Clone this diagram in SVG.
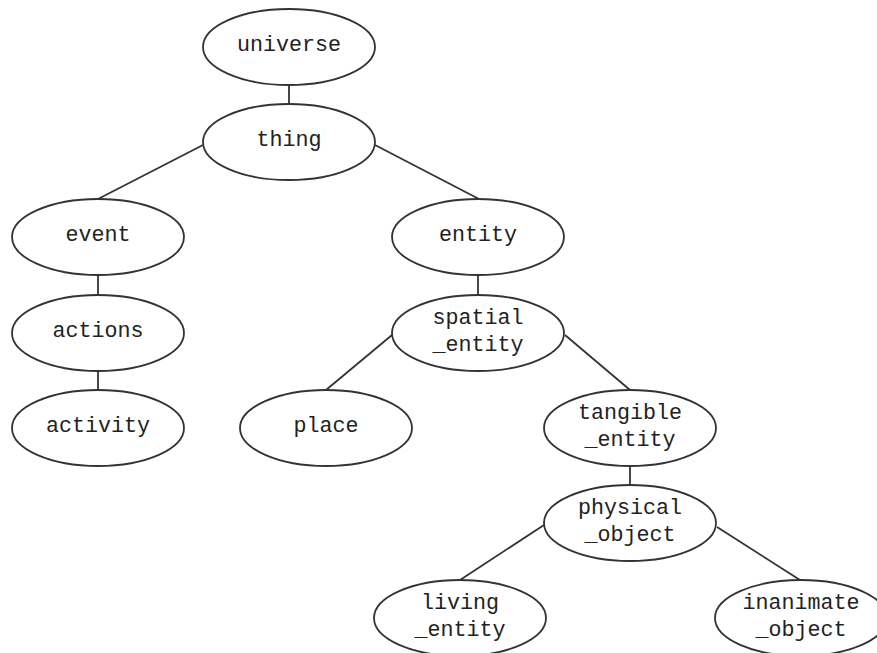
<svg xmlns="http://www.w3.org/2000/svg" width="877" height="653" viewBox="0 0 877 653">
<style>
.n ellipse{fill:#fff;stroke:#333;stroke-width:1.8}
.n text{font-family:"Liberation Mono","DejaVu Sans Mono",monospace;font-size:21.7px;fill:#222;text-anchor:middle;dominant-baseline:central}
#edges line{stroke:#333;stroke-width:1.8}
</style>
<rect width="877" height="653" fill="#fff"/>
<g id="edges">
<line x1="289" y1="85" x2="289" y2="104"/>
<line x1="203" y1="145" x2="98" y2="199"/>
<line x1="375" y1="145" x2="479" y2="199"/>
<line x1="98" y1="275" x2="98" y2="295"/>
<line x1="478" y1="275" x2="478" y2="295"/>
<line x1="98" y1="371" x2="98" y2="390"/>
<line x1="392" y1="335" x2="326" y2="390"/>
<line x1="565" y1="335" x2="630" y2="390"/>
<line x1="630" y1="466" x2="630" y2="485"/>
<line x1="544" y1="525" x2="460" y2="580"/>
<line x1="717" y1="527" x2="800" y2="580"/>
</g>
<g id="universe" class="n"><ellipse cx="289" cy="47" rx="86" ry="38"/><text x="289" y="45">universe</text></g>
<g id="thing" class="n"><ellipse cx="289" cy="142" rx="86" ry="38"/><text x="289" y="140">thing</text></g>
<g id="event" class="n"><ellipse cx="98" cy="237" rx="86" ry="38"/><text x="98" y="235">event</text></g>
<g id="entity" class="n"><ellipse cx="478" cy="237" rx="86" ry="38"/><text x="478" y="235">entity</text></g>
<g id="actions" class="n"><ellipse cx="98" cy="333" rx="86" ry="38"/><text x="98" y="331">actions</text></g>
<g id="spatial_entity" class="n"><ellipse cx="478" cy="333" rx="86" ry="38"/><text x="478" y="318">spatial</text><text x="478" y="345">_entity</text></g>
<g id="activity" class="n"><ellipse cx="98" cy="428" rx="86" ry="38"/><text x="98" y="426">activity</text></g>
<g id="place" class="n"><ellipse cx="326" cy="428" rx="86" ry="38"/><text x="326" y="426">place</text></g>
<g id="tangible_entity" class="n"><ellipse cx="630" cy="428" rx="86" ry="38"/><text x="630" y="413">tangible</text><text x="630" y="440">_entity</text></g>
<g id="physical_object" class="n"><ellipse cx="630" cy="523" rx="86" ry="38"/><text x="630" y="508">physical</text><text x="630" y="535">_object</text></g>
<g id="living_entity" class="n"><ellipse cx="460" cy="618" rx="86" ry="38"/><text x="460" y="603">living</text><text x="460" y="630">_entity</text></g>
<g id="inanimate_object" class="n"><ellipse cx="801" cy="618" rx="86" ry="38"/><text x="801" y="603">inanimate</text><text x="801" y="630">_object</text></g>
</svg>
